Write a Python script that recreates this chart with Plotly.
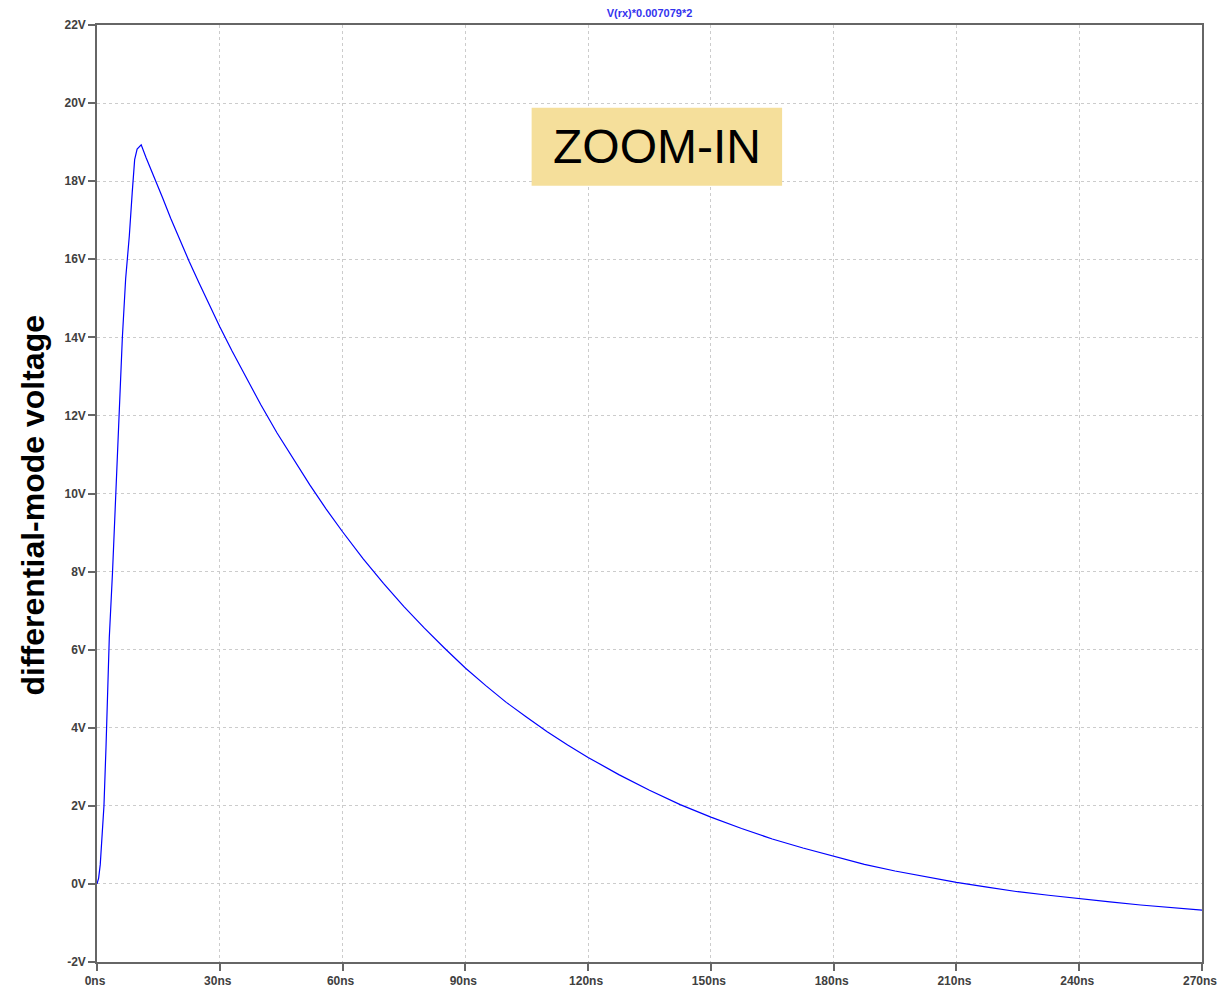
import plotly.graph_objects as go

# time in ns, voltage in V
time_ns = [0, 0.4, 0.8, 1.2, 1.7, 2.2, 2.6, 3.0, 3.8, 4.6, 5.4, 6.2, 7.0, 7.9, 8.6,
           9.2, 9.8, 10.8, 12, 14, 16, 18, 20, 22.5, 25, 27.5, 30, 33, 36, 40, 44,
           48, 52, 56, 60, 65, 70, 75, 80, 85, 90, 95, 100, 105, 110, 115, 120,
           127.5, 135, 142.5, 150, 157.5, 165, 172.5, 180, 187.5, 195, 202.5, 210,
           217.5, 225, 232.5, 240, 247.5, 255, 262.5, 270]
volt = [0, 0.15, 0.5, 1.1, 2.0, 3.5, 5.0, 6.3, 8.0, 10.0, 12.0, 14.0, 15.5, 16.6, 17.7,
        18.55, 18.82, 18.93, 18.6, 18.1, 17.58, 17.05, 16.55, 15.95, 15.38, 14.82, 14.27,
        13.65, 13.05, 12.28, 11.55, 10.88, 10.22, 9.6, 9.02, 8.33, 7.7, 7.1, 6.55, 6.03,
        5.53, 5.08, 4.65, 4.27, 3.9, 3.56, 3.24, 2.8, 2.4, 2.03, 1.71, 1.42, 1.15, 0.92,
        0.7, 0.5, 0.33, 0.18, 0.04, -0.08, -0.2, -0.29, -0.38, -0.46, -0.54, -0.61, -0.67]

x_ticks = [0, 30, 60, 90, 120, 150, 180, 210, 240, 270]
x_labels = [f"{v}ns" for v in x_ticks]
y_ticks = [-2, 0, 2, 4, 6, 8, 10, 12, 14, 16, 18, 20, 22]
y_labels = [f"{v}V" for v in y_ticks]

trace_name = "V(rx)*0.007079*2"
y_title = "differential-mode voltage"
box_text = "ZOOM-IN"

fig = go.Figure()
fig.add_trace(go.Scatter(x=time_ns, y=volt, mode="lines",
                         line=dict(color="#0000ff", width=1.2),
                         name=trace_name, showlegend=False))

axis_common = dict(
    showline=True, linecolor="#666666", linewidth=1.5, mirror=True,
    ticks="outside", ticklen=7, tickcolor="#666666", tickwidth=1.5,
    showgrid=True, gridcolor="#cccccc", griddash="3px,3px", gridwidth=1,
    zeroline=False, automargin=False, ticklabeloverflow="allow",
    tickfont=dict(family="Liberation Sans, Arial", size=12, color="#404040", weight="bold"),
)

fig.update_layout(
    width=1217, height=987,
    margin=dict(l=97, r=15, t=25, b=25),
    plot_bgcolor="white", paper_bgcolor="white",
    xaxis=dict(range=[0, 270], tickvals=x_ticks, ticktext=x_labels,
               ticklabelshift=-2, **axis_common),
    yaxis=dict(range=[-2, 22], tickvals=y_ticks, ticktext=y_labels, **axis_common),
    title=dict(text=trace_name, x=0.5, xref="paper", xanchor="center",
               y=1 - 13 / 987, yref="container", yanchor="middle",
               font=dict(family="Liberation Sans, Arial", size=11, color="#3333ee", weight="bold")),
)

fig.add_annotation(text=y_title, xref="paper", yref="paper", x=-64 / 1105, y=0.5 - 12 / 937,
                   textangle=-90, showarrow=False, xanchor="center", yanchor="middle",
                   font=dict(family="Liberation Sans, Arial", size=32, color="black", weight="bold"))

fig.add_shape(type="rect", xref="x", yref="y", x0=106.2, x1=167.4, y0=17.88, y1=19.88,
              fillcolor="#f5df9b", line=dict(width=0), layer="above")
fig.add_annotation(text=box_text, xref="x", yref="y", x=136.8, y=18.88, showarrow=False,
                   xanchor="center", yanchor="middle",
                   font=dict(family="Liberation Sans, Arial", size=48, color="black"))

fig.write_html("out.html", config={"displayModeBar": False},
               post_script="document.body.style.margin='0';document.body.style.overflow='hidden';")
